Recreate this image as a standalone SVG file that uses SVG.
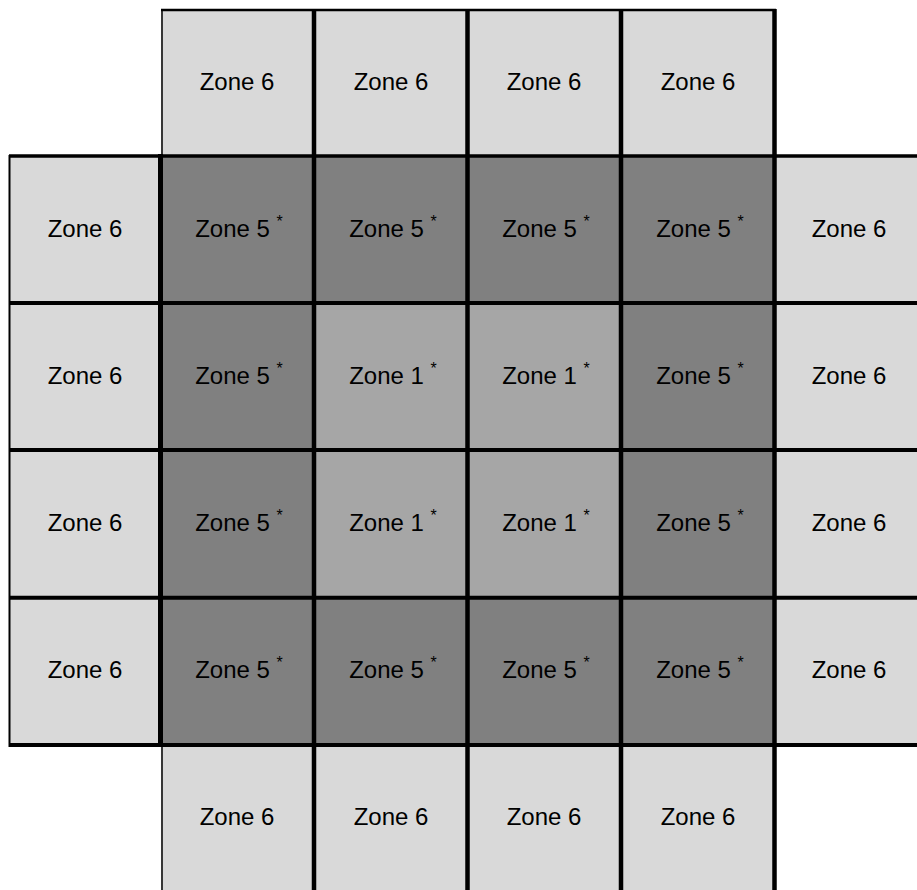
<svg xmlns="http://www.w3.org/2000/svg" width="917" height="890" viewBox="0 0 917 890">
<style>
.z6{fill:#d9d9d9}
.z5{fill:#808080}
.z1{fill:#a6a6a6}
text{font-family:"Liberation Sans",Arial,sans-serif;font-size:24px;fill:#000;text-anchor:middle}
.sup{font-size:16px}
.ln{stroke:#000;fill:none}
</style>
<rect width="917" height="890" fill="#fff"/>
<g id="cells">
<g id="r0c1"><rect class="z6" x="161" y="10" width="153" height="146"/><text x="237" y="90">Zone 6</text></g>
<g id="r0c2"><rect class="z6" x="314" y="10" width="154" height="146"/><text x="391" y="90">Zone 6</text></g>
<g id="r0c3"><rect class="z6" x="468" y="10" width="153" height="146"/><text x="544" y="90">Zone 6</text></g>
<g id="r0c4"><rect class="z6" x="621" y="10" width="154" height="146"/><text x="698" y="90">Zone 6</text></g>

<g id="r1c0"><rect class="z6" x="10" y="156" width="151" height="147"/><text x="85" y="237">Zone 6</text></g>
<g id="r1c1"><rect class="z5" x="161" y="156" width="153" height="147"/><text x="239" y="237">Zone 5 <tspan class="sup" dy="-10">*</tspan></text></g>
<g id="r1c2"><rect class="z5" x="314" y="156" width="154" height="147"/><text x="393" y="237">Zone 5 <tspan class="sup" dy="-10">*</tspan></text></g>
<g id="r1c3"><rect class="z5" x="468" y="156" width="153" height="147"/><text x="546" y="237">Zone 5 <tspan class="sup" dy="-10">*</tspan></text></g>
<g id="r1c4"><rect class="z5" x="621" y="156" width="154" height="147"/><text x="700" y="237">Zone 5 <tspan class="sup" dy="-10">*</tspan></text></g>
<g id="r1c5"><rect class="z6" x="775" y="156" width="142" height="147"/><text x="849" y="237">Zone 6</text></g>

<g id="r2c0"><rect class="z6" x="10" y="303" width="151" height="147"/><text x="85" y="384">Zone 6</text></g>
<g id="r2c1"><rect class="z5" x="161" y="303" width="153" height="147"/><text x="239" y="384">Zone 5 <tspan class="sup" dy="-10">*</tspan></text></g>
<g id="r2c2"><rect class="z1" x="314" y="303" width="154" height="147"/><text x="393" y="384">Zone 1 <tspan class="sup" dy="-10">*</tspan></text></g>
<g id="r2c3"><rect class="z1" x="468" y="303" width="153" height="147"/><text x="546" y="384">Zone 1 <tspan class="sup" dy="-10">*</tspan></text></g>
<g id="r2c4"><rect class="z5" x="621" y="303" width="154" height="147"/><text x="700" y="384">Zone 5 <tspan class="sup" dy="-10">*</tspan></text></g>
<g id="r2c5"><rect class="z6" x="775" y="303" width="142" height="147"/><text x="849" y="384">Zone 6</text></g>

<g id="r3c0"><rect class="z6" x="10" y="450" width="151" height="148"/><text x="85" y="531">Zone 6</text></g>
<g id="r3c1"><rect class="z5" x="161" y="450" width="153" height="148"/><text x="239" y="531">Zone 5 <tspan class="sup" dy="-10">*</tspan></text></g>
<g id="r3c2"><rect class="z1" x="314" y="450" width="154" height="148"/><text x="393" y="531">Zone 1 <tspan class="sup" dy="-10">*</tspan></text></g>
<g id="r3c3"><rect class="z1" x="468" y="450" width="153" height="148"/><text x="546" y="531">Zone 1 <tspan class="sup" dy="-10">*</tspan></text></g>
<g id="r3c4"><rect class="z5" x="621" y="450" width="154" height="148"/><text x="700" y="531">Zone 5 <tspan class="sup" dy="-10">*</tspan></text></g>
<g id="r3c5"><rect class="z6" x="775" y="450" width="142" height="148"/><text x="849" y="531">Zone 6</text></g>

<g id="r4c0"><rect class="z6" x="10" y="598" width="151" height="147"/><text x="85" y="678">Zone 6</text></g>
<g id="r4c1"><rect class="z5" x="161" y="598" width="153" height="147"/><text x="239" y="678">Zone 5 <tspan class="sup" dy="-10">*</tspan></text></g>
<g id="r4c2"><rect class="z5" x="314" y="598" width="154" height="147"/><text x="393" y="678">Zone 5 <tspan class="sup" dy="-10">*</tspan></text></g>
<g id="r4c3"><rect class="z5" x="468" y="598" width="153" height="147"/><text x="546" y="678">Zone 5 <tspan class="sup" dy="-10">*</tspan></text></g>
<g id="r4c4"><rect class="z5" x="621" y="598" width="154" height="147"/><text x="700" y="678">Zone 5 <tspan class="sup" dy="-10">*</tspan></text></g>
<g id="r4c5"><rect class="z6" x="775" y="598" width="142" height="147"/><text x="849" y="678">Zone 6</text></g>

<g id="r5c1"><rect class="z6" x="161" y="745" width="153" height="145"/><text x="237" y="825">Zone 6</text></g>
<g id="r5c2"><rect class="z6" x="314" y="745" width="154" height="145"/><text x="391" y="825">Zone 6</text></g>
<g id="r5c3"><rect class="z6" x="468" y="745" width="153" height="145"/><text x="544" y="825">Zone 6</text></g>
<g id="r5c4"><rect class="z6" x="621" y="745" width="154" height="145"/><text x="698" y="825">Zone 6</text></g>
</g>
<g id="lines" class="ln">
<line x1="161" y1="10" x2="776" y2="10" stroke-width="2.5"/>
<line x1="9" y1="156" x2="917" y2="156" stroke-width="3.5"/>
<line x1="9" y1="303" x2="917" y2="303" stroke-width="4"/>
<line x1="9" y1="450" x2="917" y2="450" stroke-width="4"/>
<line x1="9" y1="597.7" x2="917" y2="597.7" stroke-width="4"/>
<line x1="9" y1="745" x2="917" y2="745" stroke-width="4"/>
<line x1="9.5" y1="155" x2="9.5" y2="747" stroke-width="2"/>
<line x1="162" y1="9" x2="162" y2="156" stroke-width="1.5"/>
<line x1="162" y1="745" x2="162" y2="890" stroke-width="1.5"/>
<line x1="160.5" y1="154" x2="160.5" y2="747" stroke-width="5"/>
<line x1="314" y1="9" x2="314" y2="890" stroke-width="4.5"/>
<line x1="467.5" y1="9" x2="467.5" y2="890" stroke-width="4.5"/>
<line x1="621" y1="9" x2="621" y2="890" stroke-width="4.5"/>
<line x1="774.5" y1="9" x2="774.5" y2="890" stroke-width="4.5"/>
</g>
</svg>
